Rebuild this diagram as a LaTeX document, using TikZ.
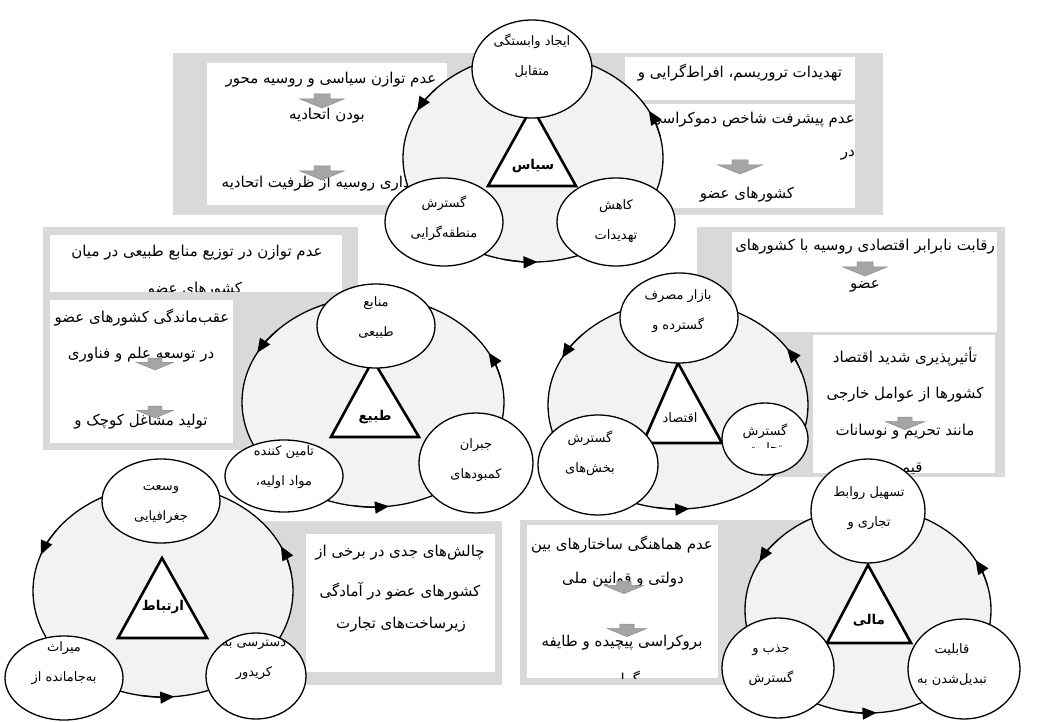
\documentclass[tikz,border=0pt]{standalone}
\usepackage{fontspec}
\usetikzlibrary{arrows.meta,shapes.geometric}
\newfontfamily\fafont[Script=Arabic]{DejaVu Sans}
\TeXXeTstate=1
\newcommand\pers[1]{\beginR#1\endR}
\definecolor{boxgray}{HTML}{D9D9D9}
\definecolor{circfill}{HTML}{F2F2F2}
\definecolor{arrfill}{HTML}{A5A5A5}
\definecolor{arrline}{HTML}{8A8A8A}
\tikzset{
  txt/.style={font=\fafont\fontsize{15}{17}\selectfont, inner sep=0},
  etxt/.style={font=\fafont\fontsize{13}{30}\selectfont, align=center, inner sep=0},
  lbl/.style={font=\fafont\bfseries\fontsize{13.5}{15}\selectfont, inner sep=0},
  lbln/.style={font=\fafont\fontsize{13}{15}\selectfont, inner sep=0},
  bigc/.style={ellipse, draw=black, fill=circfill, line width=1.3pt, inner sep=0},
  smalle/.style={ellipse, draw=black, fill=white, line width=1.3pt, inner sep=0},
  tri/.style={draw=black, fill=white, line width=2.6pt, line join=miter},
  tipc/.style={-{Triangle[length=14pt,width=12pt]}, line width=1.3pt},
  dnarrow/.pic={
    \filldraw[fill=arrfill, draw=arrline, line width=0.5pt] (-8,0) -- (8,0) -- (8,5) -- (22,5) -- (0,14) -- (-22,5) -- (-8,5) -- cycle;
  }
}
\begin{document}
\begin{tikzpicture}[x=1pt,y=-1pt]
\useasboundingbox (0,0) rectangle (1053,722);
% ---------- gray background boxes
\fill[boxgray] (173,53) rectangle (883,215);
\fill[boxgray] (43,227) rectangle (358,450);
\fill[boxgray] (697,227) rectangle (1005,477);
\fill[boxgray] (262,521) rectangle (502,685);
\fill[boxgray] (520,520) rectangle (820,685);
% ---------- white text boxes
\fill[white] (207,63) rectangle (447,205);
\fill[white] (625,57) rectangle (855,100);
\fill[white] (625,104) rectangle (855,208);
\fill[white] (50,235) rectangle (342,292);
\fill[white] (50,300) rectangle (233,443);
\fill[white] (732,232) rectangle (997,332);
\fill[white] (813,335) rectangle (995,473);
\fill[white] (306,534) rectangle (495,672);
\fill[white] (527,525) rectangle (718,678);
% ---------- box texts: politics
\node[txt] (a1) at (331,80) {\pers{عدم توازن سیاسی و روسیه محور}};
\node[txt] (a2) at (327,116) {\pers{بودن اتحادیه}};
\node[txt, anchor=east] (a3) at (410,184) {\pers{داری روسیه از ظرفیت اتحادیه}};
\node[txt] (b1) at (740,73) {\pers{تهدیدات تروریسم، افراط‌گرایی و}};
\node[txt, anchor=east] (b2) at (855,120) {\pers{عدم پیشرفت شاخص دموکراسی}};
\node[txt, anchor=east] (b3) at (855,155) {\pers{در}};
\node[txt] (b4) at (747,195) {\pers{کشورهای عضو}};
% nature
\node[txt] (c1) at (197,253) {\pers{عدم توازن در توزیع منابع طبیعی در میان}};
\begin{scope}
\clip (50,235) rectangle (342,292);
\node[txt] (c2) at (195,290) {\pers{کشورهای عضو}};
\end{scope}
\node[txt] (c3) at (142,318) {\pers{عقب‌ماندگی کشورهای عضو}};
\node[txt] (c4) at (141,355) {\pers{در توسعه علم و فناوری}};
\node[txt] (c5) at (141,422) {\pers{تولید مشاغل کوچک و}};
% economy
\node[txt] (d1) at (865,247) {\pers{رقابت نابرابر اقتصادی روسیه با کشورهای}};
\node[txt] (d2) at (865,286) {\pers{عضو}};
\node[txt] (d3) at (905,357) {\pers{تأثیرپذیری شدید اقتصاد}};
\node[txt] (d4) at (905,395) {\pers{کشورها از عوامل خارجی}};
\node[txt] (d5) at (905,432) {\pers{مانند تحریم و نوسانات}};
\begin{scope}
\clip (813,335) rectangle (995,473);
\node[txt] (d6) at (905,469) {\pers{قیمت}};
\end{scope}
% communication
\node[txt] (e1) at (400,553) {\pers{چالش‌های جدی در برخی از}};
\node[txt] (e2) at (400,591) {\pers{کشورهای عضو در آمادگی}};
\node[txt] (e3) at (401,625) {\pers{زیرساخت‌های تجارت}};
% finance
\node[txt] (f1) at (622,545) {\pers{عدم هماهنگی ساختارهای بین}};
\node[txt] (f2) at (623,580) {\pers{دولتی و قوانین ملی}};
\node[txt] (f3) at (622,643) {\pers{بروکراسی پیچیده و طایفه}};
\begin{scope}
\clip (527,525) rectangle (718,678);
\node[txt] (f4) at (622,680) {\pers{گرایی}};
\end{scope}
% ---------- block arrows
\pic at (322,94) {dnarrow};
\pic at (322,166) {dnarrow};
\pic at (740,160) {dnarrow};
\pic[scale=0.85] at (155,358) {dnarrow};
\pic[scale=0.85] at (155,406) {dnarrow};
\pic at (865,262) {dnarrow};
\pic[scale=0.9] at (905,417) {dnarrow};
\pic[scale=0.9] at (624,581) {dnarrow};
\pic[scale=0.9] at (627,624) {dnarrow};

% ================= politics cycle
\node[bigc, minimum width=260, minimum height=208] (pc) at (533,158) {};
\draw[tipc] (pc.center) ++(222:130 and 104) arc[start angle=222, end angle=207, x radius=130, y radius=104];
\draw[tipc] (pc.center) ++(348:130 and 104) arc[start angle=348, end angle=333, x radius=130, y radius=104];
\draw[tipc] (pc.center) ++(103:130 and 104) arc[start angle=103, end angle=88, x radius=130, y radius=104];
\draw[tri] (532,107) -- (576,186) -- (488,186) -- cycle;
\node[lbl] (pl) at (533,166) {\pers{سیاس}};
\node[smalle, minimum width=120, minimum height=98] (p1) at (532,69) {};
\node[etxt] (p1t) at (532,56) {\pers{ایجاد وابستگی}\\\pers{متقابل}};
\node[smalle, minimum width=118, minimum height=88] (p2) at (444,222) {};
\node[etxt] (p2t) at (444,218) {\pers{گسترش}\\\pers{منطقه‌گرایی}};
\node[smalle, minimum width=118, minimum height=88] (p3) at (616,222) {};
\node[etxt] (p3t) at (616,221) {\pers{کاهش}\\\pers{تهدیدات}};

% ================= nature cycle
\node[bigc, minimum width=262, minimum height=210] (tc) at (373,402) {};
\draw[tipc] (tc.center) ++(223:131 and 105) arc[start angle=223, end angle=208, x radius=131, y radius=105];
\draw[tipc] (tc.center) ++(347:131 and 105) arc[start angle=347, end angle=332, x radius=131, y radius=105];
\draw[tipc] (tc.center) ++(98:131 and 105) arc[start angle=98, end angle=83, x radius=131, y radius=105];
\draw[tri] (373,360) -- (419,437) -- (331,437) -- cycle;
\node[lbl] (tl) at (375,417) {\pers{طبیع}};
\node[smalle, minimum width=118, minimum height=84] (t1) at (376,326) {};
\node[etxt] (t1t) at (376,318) {\pers{منابع}\\\pers{طبیعی}};
\node[smalle, minimum width=118, minimum height=72] (t2) at (284,476) {};
\node[etxt] (t2t) at (284,467) {\pers{تامین کننده}\\\pers{مواد اولیه،}};
\node[smalle, minimum width=114, minimum height=100] (t3) at (476,463) {};
\node[etxt] (t3t) at (476,460) {\pers{جبران}\\\pers{کمبودهای}};

% ================= economy cycle
\node[bigc, minimum width=260, minimum height=208] (ec) at (678,405) {};
\draw[tipc] (ec.center) ++(222:130 and 104) arc[start angle=222, end angle=207, x radius=130, y radius=104];
\draw[tipc] (ec.center) ++(342:130 and 104) arc[start angle=342, end angle=327, x radius=130, y radius=104];
\draw[tipc] (ec.center) ++(100:130 and 104) arc[start angle=100, end angle=85, x radius=130, y radius=104];
\draw[tri] (678,363) -- (722,443) -- (643,443) -- cycle;
\node[lbln] (el) at (680,418) {\pers{اقتصاد}};
\node[smalle, minimum width=118, minimum height=90] (e1c) at (679,318) {};
\node[etxt] (e1t) at (678,311) {\pers{بازار مصرف}\\\pers{گسترده و}};
\node[smalle, minimum width=120, minimum height=100] (e2c) at (598,465) {};
\node[etxt] (e2t) at (590,453) {\pers{گسترش}\\\pers{بخش‌های}};
\node[smalle, minimum width=86, minimum height=72] (e3c) at (765,439) {};
\node[etxt] (e3t) at (765,431) {\pers{گسترش}};
\begin{scope}
\clip (722,400) rectangle (808,447);
\node[etxt] (e3u) at (765,449) {\pers{تجارت}};
\end{scope}

% ================= communication cycle
\node[bigc, minimum width=260, minimum height=212] (rc) at (163,591) {};
\draw[tipc] (rc.center) ++(215:130 and 106) arc[start angle=215, end angle=200, x radius=130, y radius=106];
\draw[tipc] (rc.center) ++(350:130 and 106) arc[start angle=350, end angle=335, x radius=130, y radius=106];
\draw[tipc] (rc.center) ++(100:130 and 106) arc[start angle=100, end angle=85, x radius=130, y radius=106];
\draw[tri] (162,558) -- (207,638) -- (118,638) -- cycle;
\node[lbl] (rl) at (163,607) {\pers{ارتباط}};
\node[smalle, minimum width=118, minimum height=84] (r1) at (161,501) {};
\node[etxt] (r1t) at (161,505) {\pers{وسعت}\\\pers{جغرافیایی}};
\node[smalle, minimum width=118, minimum height=84] (r2) at (64,678) {};
\node[etxt] (r2t) at (64,663) {\pers{میراث}\\\pers{به‌جامانده از}};
\node[smalle, minimum width=100, minimum height=86] (r3) at (256,676) {};
\node[etxt] (r3t) at (254,660) {\pers{دسترسی به}\\\pers{کریدور}};

% ================= finance cycle
\node[bigc, minimum width=246, minimum height=206] (mc) at (868,610) {};
\draw[tipc] (mc.center) ++(223:123 and 103) arc[start angle=223, end angle=208, x radius=123, y radius=103];
\draw[tipc] (mc.center) ++(346:123 and 103) arc[start angle=346, end angle=331, x radius=123, y radius=103];
\draw[tipc] (mc.center) ++(101:123 and 103) arc[start angle=101, end angle=86, x radius=123, y radius=103];
\draw[tri] (868,565) -- (911,643) -- (827,643) -- cycle;
\node[lbl] (ml) at (869,620) {\pers{مالی}};
\node[smalle, minimum width=114, minimum height=104] (m1) at (868,511) {};
\node[etxt] (m1t) at (869,508) {\pers{تسهیل روابط}\\\pers{تجاری و}};
\node[smalle, minimum width=112, minimum height=100] (m2) at (778,668) {};
\node[etxt] (m2t) at (771,665) {\pers{جذب و}\\\pers{گسترش}};
\node[smalle, minimum width=112, minimum height=100] (m3) at (964,669) {};
\node[etxt] (m3t) at (952,665) {\pers{قابلیت}\\\pers{تبدیل‌شدن به}};
\end{tikzpicture}
\end{document}
